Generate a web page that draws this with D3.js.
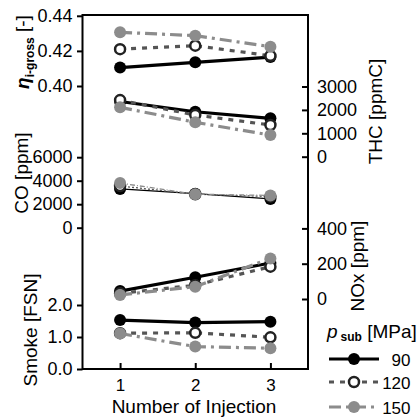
<!DOCTYPE html>
<html>
<head>
<meta charset="utf-8">
<script src="https://cdn.jsdelivr.net/npm/d3@7"></script>
<style>
body { margin: 0; background: #fff; }
svg text { font-family: "Liberation Sans", Arial, sans-serif; }
</style>
</head>
<body>
<svg></svg>
<script>
// categories
const injections = [1, 2, 3];
const pressures = ["90", "120", "150"];

// series values, one array per panel and pressure
const eta90 = [0.4105, 0.4135, 0.4165];
const eta120 = [0.4210, 0.4230, 0.4172];
const eta150 = [0.4306, 0.4287, 0.4224];

const thc90 = [2360, 1920, 1640];
const thc120 = [2420, 1780, 1355];
const thc150 = [2110, 1470, 925];

const co90 = [3300, 2900, 2450];
const co120 = [3550, 2850, 2650];
const co150 = [3800, 2850, 2750];

const nox90 = [45, 123, 204];
const nox120 = [32, 78, 183];
const nox150 = [23, 70, 230];

const smoke90 = [1.53, 1.45, 1.48];
const smoke120 = [1.12, 1.13, 0.99];
const smoke150 = [1.11, 0.70, 0.65];

// tick labels
const etaTicks = [0.40, 0.42, 0.44];
const thcTicks = [0, 1000, 2000, 3000];
const coTicks = [0, 2000, 4000, 6000];
const noxTicks = [0, 200, 400];
const smokeTicks = [0.0, 1.0, 2.0];

const W = 418, H = 419;
const plotL = 82.5, plotR = 308, plotT = 15, plotB = 369;

const svg = d3.select("svg").attr("width", W).attr("height", H);

const x = d3.scaleLinear().domain([0.5, 3.5]).range([plotL, plotR]);

const yEta = d3.scaleLinear().domain([0.40, 0.44]).range([86, 15.8]);
const yThc = d3.scaleLinear().domain([0, 3000]).range([156.7, 86.5]);
const yCo = d3.scaleLinear().domain([0, 6000]).range([227.7, 157.2]);
const yNox = d3.scaleLinear().domain([0, 400]).range([299, 228.4]);
const ySmoke = d3.scaleLinear().domain([0, 2]).range([369, 305]);

const styles = {
  "90": { stroke: "#000", dash: null, fill: "#000", mstroke: "#000", msw: 0 },
  "120": { stroke: "#555", dash: "5,6", fill: "#fff", mstroke: "#222", msw: 2.5 },
  "150": { stroke: "#8c8c8c", dash: "12,5,3,5", fill: "#8c8c8c", mstroke: "none", msw: 0 }
};
const thinDash = { "90": null, "120": "2,2", "150": "5,2,1,2" };

const panels = [
  { y: yEta, data: { "90": eta90, "120": eta120, "150": eta150 }, thin: false },
  { y: yThc, data: { "90": thc90, "120": thc120, "150": thc150 }, thin: false },
  { y: yCo, data: { "90": co90, "120": co120, "150": co150 }, thin: true },
  { y: yNox, data: { "90": nox90, "120": nox120, "150": nox150 }, thin: false },
  { y: ySmoke, data: { "90": smoke90, "120": smoke120, "150": smoke150 }, thin: false }
];

// frame
svg.append("rect")
  .attr("x", plotL).attr("y", plotT)
  .attr("width", plotR - plotL).attr("height", plotB - plotT)
  .attr("fill", "none").attr("stroke", "#000").attr("stroke-width", 2);

function styleAxis(g, size) {
  g.attr("font-size", size).attr("font-family", '"Liberation Sans", Arial, sans-serif');
  g.select(".domain").remove();
  g.selectAll(".tick line").attr("stroke-width", 2);
  g.selectAll(".tick text").attr("fill", "#000");
}

// left axes
[[yEta, etaTicks, ".2f"], [yCo, coTicks, "d"], [ySmoke, smokeTicks, ".1f"]].forEach(([s, t, f]) => {
  svg.append("g")
    .attr("transform", `translate(${plotL},0)`)
    .call(d3.axisLeft(s).tickValues(t).tickFormat(d3.format(f)).tickSizeInner(5.5).tickSizeOuter(0).tickPadding(4.5))
    .call(g => styleAxis(g, 18));
});

// right axes
[[yThc, thcTicks], [yNox, noxTicks]].forEach(([s, t]) => {
  svg.append("g")
    .attr("transform", `translate(${plotR},0)`)
    .call(d3.axisRight(s).tickValues(t).tickFormat(d3.format("d")).tickSizeInner(-6).tickSizeOuter(0).tickPadding(9))
    .call(g => styleAxis(g, 18));
});

// bottom axis
svg.append("g")
  .attr("transform", `translate(0,${plotB})`)
  .call(d3.axisBottom(x).tickValues(injections).tickFormat(d3.format("d")).tickSizeInner(-6).tickSizeOuter(0).tickPadding(10))
  .call(g => styleAxis(g, 17));

// series
panels.forEach(p => {
  pressures.forEach(k => {
    const st = styles[k];
    const vals = p.data[k];
    const pts = injections.map((n, i) => [n, vals[i]]);
    const line = d3.line().x(d => x(d[0])).y(d => p.y(d[1]));
    svg.append("path")
      .attr("d", line(pts))
      .attr("fill", "none")
      .attr("stroke", st.stroke)
      .attr("stroke-width", p.thin ? 1.3 : 3.2)
      .attr("stroke-dasharray", p.thin ? thinDash[k] : st.dash);
    svg.selectAll(null).data(pts).enter().append("circle")
      .attr("cx", d => x(d[0])).attr("cy", d => p.y(d[1]))
      .attr("r", k === "120" ? 5 : 6)
      .attr("fill", st.fill)
      .attr("stroke", st.mstroke)
      .attr("stroke-width", st.msw);
  });
});

// axis titles
function vtitle(tx, ty) {
  return svg.append("text")
    .attr("transform", `translate(${tx},${ty}) rotate(-90)`)
    .attr("text-anchor", "middle")
    .attr("font-size", 19);
}
const eta = vtitle(29, 52);
eta.append("tspan").attr("font-style", "italic").attr("font-weight", "bold").text("η");
eta.append("tspan").attr("font-weight", "bold").attr("font-size", 12).attr("dy", 5).text("i-gross");
eta.append("tspan").attr("dy", -5).text(" [-]");
vtitle(28, 173).text("CO [ppm]");
vtitle(37, 330).text("Smoke [FSN]");
vtitle(381.5, 111.5).text("THC [ppmC]");
vtitle(364, 266).text("NOx [ppm]");

svg.append("text")
  .attr("x", 194).attr("y", 412.5)
  .attr("text-anchor", "middle")
  .attr("font-size", 19)
  .text("Number of Injection");

// legend
const lt = svg.append("text").attr("x", 327).attr("y", 338).attr("font-size", 19);
lt.append("tspan").attr("font-style", "italic").text("p");
lt.append("tspan").attr("font-weight", "bold").attr("font-size", 12).attr("dx", 3).attr("dy", 3).text("sub");
lt.append("tspan").attr("dy", -3).text(" [MPa]");

const legendY = [359, 382, 407];
pressures.forEach((k, i) => {
  const st = styles[k];
  const ly = legendY[i];
  svg.append("line")
    .attr("x1", 329).attr("x2", 379).attr("y1", ly).attr("y2", ly)
    .attr("stroke", st.stroke).attr("stroke-width", 3.2)
    .attr("stroke-dasharray", st.dash);
  svg.append("circle")
    .attr("cx", 354).attr("cy", ly)
    .attr("r", k === "120" ? 5 : 6)
    .attr("fill", st.fill).attr("stroke", st.mstroke).attr("stroke-width", st.msw);
  svg.append("text")
    .attr("x", 410.5).attr("y", ly + 6.5)
    .attr("text-anchor", "end")
    .attr("font-size", 17)
    .text(k);
});
</script>
</body>
</html>
